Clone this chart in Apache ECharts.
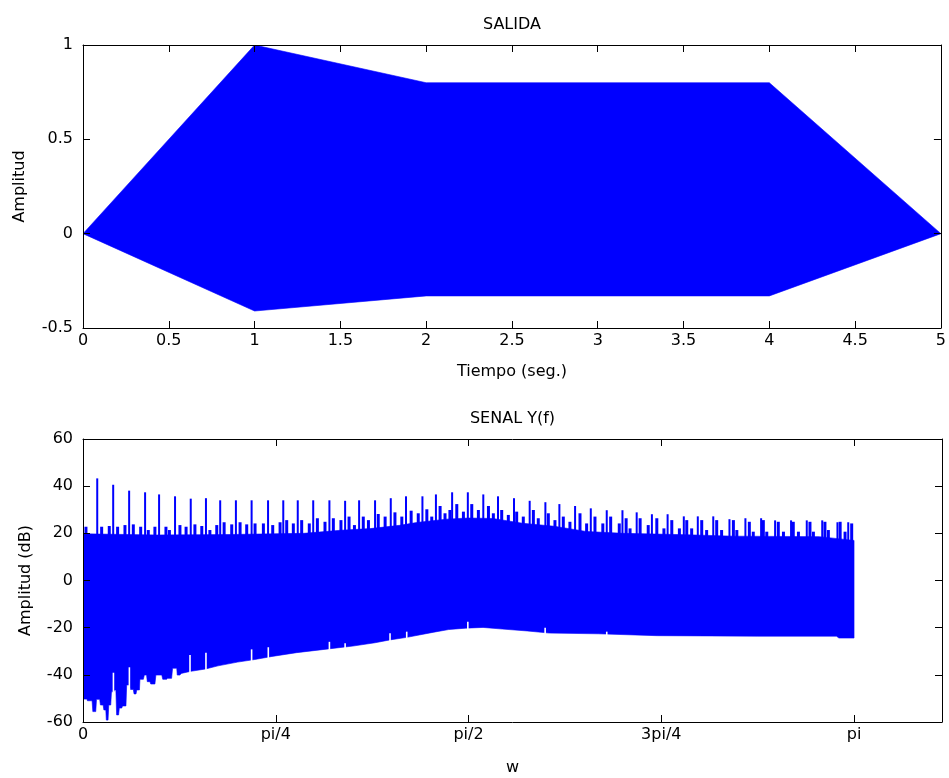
<!DOCTYPE html>
<html>
<head>
<meta charset="utf-8">
<script src="https://cdn.jsdelivr.net/npm/echarts@6/dist/echarts.min.js"></script>
<style>
  html, body { margin: 0; padding: 0; background: #ffffff; }
  #chart { width: 949px; height: 778px; }
</style>
</head>
<body>
<div id="chart"></div>
<script>
// ---------- SALIDA: envelope of the output signal (time in s, amplitude) ----------
const salidaUpperT = [0, 1, 2, 4, 5];
const salidaUpperV = [0, 1.0, 0.8, 0.8, 0];
const salidaLowerT = [0, 1, 2, 4, 5];
const salidaLowerV = [0, -0.41, -0.33, -0.33, 0];

// ---------- SENAL Y(f): magnitude spectrum in dB over w in [0, pi] ----------
// upper body of the spectrum (level between the harmonic peaks)
const specTopW  = [0.00, 0.30, 0.60, 0.90, 1.05, 1.17, 1.29, 1.36, 1.48, 1.57, 1.67, 1.79, 1.92, 2.05, 2.20, 2.46, 2.65, 3.00, 3.1416];
const specTopDb = [19.8, 19.3, 19.5, 20.0, 21.3, 22.0, 23.4, 24.6, 26.0, 26.5, 26.3, 24.3, 23.0, 20.8, 20.0, 19.4, 18.8, 18.6, 17.0];

// lower body of the spectrum
const specLowW  = [0.000, 0.016, 0.018, 0.037, 0.040, 0.052, 0.055, 0.068, 0.071, 0.082, 0.085, 0.093, 0.095, 0.102,
                   0.105, 0.113, 0.116, 0.125, 0.128, 0.134, 0.137, 0.145, 0.148, 0.158, 0.161, 0.175, 0.178, 0.190,
                   0.193, 0.205, 0.208, 0.216, 0.219, 0.230, 0.232, 0.246, 0.250, 0.259, 0.262, 0.273, 0.276, 0.293,
                   0.297, 0.321, 0.325, 0.341, 0.344, 0.361, 0.365, 0.382, 0.384, 0.395, 0.40, 0.44, 0.50, 0.55,
                   0.63, 0.70, 0.77, 0.87, 1.00, 1.10, 1.19, 1.25, 1.32, 1.37, 1.43, 1.49, 1.56, 1.63, 1.71, 1.81,
                   1.90, 2.10, 2.34, 2.75, 3.07, 3.08, 3.1416];
const specLowDb = [-50.3, -50.3, -51.0, -51.0, -55.6, -55.6, -50.4, -50.4, -52.8, -52.8, -54.9, -54.9, -59.2, -59.2,
                   -52.8, -52.8, -47.2, -47.2, -46.4, -46.4, -57.0, -57.0, -54.1, -54.1, -53.2, -53.2, -44.3, -44.3,
                   -46.2, -46.2, -48.1, -48.1, -46.4, -46.4, -41.9, -41.9, -40.1, -40.1, -42.9, -42.9, -43.9, -43.9,
                   -40.1, -40.1, -41.9, -41.9, -41.5, -41.5, -37.2, -37.2, -40.1, -40.1, -39.4, -38.5, -37.5, -36.2,
                   -34.6, -33.5, -32.2, -30.6, -29.0, -27.8, -26.4, -25.2, -24.1, -23.1, -21.9, -20.8, -20.2, -19.9, -20.6, -21.4,
                   -22.3, -22.6, -23.4, -23.6, -23.6, -24.4, -24.4];

// harmonic peaks
const peakW  = [0.058, 0.123, 0.188, 0.253, 0.310, 0.375, 0.439, 0.501, 0.559, 0.623, 0.687, 0.754, 0.816, 0.875, 0.938, 1.004,
                1.068, 1.125, 1.190, 1.254, 1.316, 1.383, 1.438, 1.504, 1.568, 1.631, 1.691, 1.756, 1.820, 1.884, 1.941, 2.005,
                2.069, 2.134, 2.198, 2.256, 2.318, 2.382, 2.448, 2.505, 2.568, 2.634, 2.699, 2.763, 2.820, 2.885, 2.949, 3.012,
                3.074, 3.118];
const peakDb = [43.3, 40.6, 38.1, 37.4, 36.5, 35.7, 34.7, 34.9, 34.0, 34.0, 34.0, 34.0, 34.0, 34.0, 34.0, 34.0,
                33.8, 34.0, 34.0, 34.9, 35.7, 35.7, 36.5, 37.4, 37.4, 36.5, 35.7, 34.9, 33.8, 33.2, 32.4, 31.6,
                30.6, 29.8, 29.8, 28.9, 28.1, 28.1, 27.2, 27.2, 27.2, 26.0, 26.4, 26.4, 25.5, 25.5, 25.5, 25.5,
                24.7, 24.7];

// smaller ripples between the peaks
const rippleW  = [0.012, 0.076, 0.107, 0.141, 0.171, 0.205, 0.235, 0.266, 0.293, 0.338, 0.352, 0.395, 0.420, 0.456, 0.484, 0.517,
                  0.545, 0.575, 0.606, 0.640, 0.667, 0.701, 0.735, 0.773, 0.803, 0.830, 0.857, 0.891, 0.922, 0.955, 0.986, 1.020,
                  1.051, 1.084, 1.106, 1.142, 1.163, 1.203, 1.231, 1.271, 1.299, 1.337, 1.366, 1.401, 1.421, 1.455, 1.475, 1.495,
                  1.523, 1.550, 1.584, 1.611, 1.652, 1.672, 1.706, 1.733, 1.767, 1.794, 1.835, 1.855, 1.896, 1.923, 1.957, 1.984,
                  2.025, 2.052, 2.086, 2.118, 2.150, 2.185, 2.213, 2.229, 2.270, 2.303, 2.338, 2.367, 2.399, 2.430, 2.460, 2.480,
                  2.521, 2.541, 2.582, 2.602, 2.650, 2.664, 2.715, 2.731, 2.772, 2.786, 2.833, 2.854, 2.894, 2.915, 2.962, 2.976,
                  3.023, 3.037, 3.085, 3.105, 3.132];
const rippleDb = [22.8, 22.8, 23.1, 22.8, 23.5, 23.8, 22.8, 21.4, 22.8, 22.8, 21.4, 23.5, 22.8, 23.8, 23.1, 21.4,
                  23.5, 24.7, 23.8, 24.7, 23.8, 24.2, 24.2, 23.5, 24.7, 25.6, 24.2, 25.6, 24.2, 26.4, 24.9, 26.4,
                  25.6, 27.1, 23.5, 27.1, 25.6, 28.2, 27.1, 28.9, 27.1, 29.6, 28.5, 30.2, 27.1, 31.6, 28.5, 29.9,
                  32.4, 29.2, 32.4, 29.9, 31.6, 28.5, 29.9, 27.8, 29.2, 27.1, 29.9, 26.4, 28.5, 25.6, 27.1, 24.9,
                  28.5, 24.2, 27.1, 24.2, 27.1, 24.2, 26.4, 22.1, 26.4, 23.5, 26.4, 22.1, 25.6, 22.1, 25.6, 22.1,
                  25.6, 21.4, 25.6, 21.4, 25.6, 21.4, 24.9, 20.7, 25.6, 20.7, 24.9, 20.7, 24.9, 20.7, 24.9, 20.7,
                  24.9, 21.4, 24.9, 20.7, 24.2];

// narrow dips in the lower body at the harmonic positions
const dipW  = [0.124, 0.189, 0.436, 0.501, 0.687, 0.755, 1.004, 1.068, 1.251, 1.319, 1.568, 1.883, 2.134];
const dipDb = [-39.1, -36.8, -31.6, -30.6, -29.2, -28.3, -26.0, -26.6, -22.4, -21.7, -17.5, -20.0, -21.7];

// tick labels of the frequency axis
const wTickLabels = ['0', 'pi/4', 'pi/2', '3pi/4', 'pi'];

// ---------- styling ----------
const BLUE = '#0000ff';
const FONT = 'DejaVu Sans';
const FS = 16;
const SPEC_Y_MIN = -60, SPEC_Y_MAX = 60;

function bandRenderer(upW, upV, loW, loV) {
  return function (params, api) {
    const pts = [];
    for (let i = 0; i < upW.length; i++) pts.push(api.coord([upW[i], upV[i]]));
    for (let i = loW.length - 1; i >= 0; i--) pts.push(api.coord([loW[i], loV[i]]));
    return { type: 'polygon', shape: { points: pts }, style: { fill: BLUE, stroke: BLUE, lineWidth: 0.6 } };
  };
}

function stemRenderer(color, width, baseValue) {
  return function (params, api) {
    const a = api.coord([api.value(0), api.value(1)]);
    const b = api.coord([api.value(0), baseValue]);
    return { type: 'line', shape: { x1: a[0], y1: a[1], x2: b[0], y2: b[1] },
             style: { stroke: color, lineWidth: width } };
  };
}

function axisBase(extra) {
  return Object.assign({
    type: 'value',
    z: 10,
    axisLine: { show: true, onZero: false, lineStyle: { color: '#000', width: 1 } },
    axisTick: { show: true, inside: true, length: 7, lineStyle: { color: '#000', width: 1 } },
    splitLine: { show: false },
    axisLabel: { color: '#000', fontFamily: FONT, fontSize: FS },
    nameTextStyle: { color: '#000', fontFamily: FONT, fontSize: FS },
    nameLocation: 'middle'
  }, extra);
}

const wFormatter = function (v) {
  const q = Math.PI / 4;
  const k = Math.round(v / q);
  return (Math.abs(v - k * q) < 1e-6 && k < wTickLabels.length) ? wTickLabels[k] : '';
};

const option = {
  animation: false,
  backgroundColor: '#ffffff',
  grid: [
    { left: 83, top: 45, width: 859, height: 283, show: false },
    { left: 83, top: 439, width: 859, height: 283, show: false }
  ],
  xAxis: [
    axisBase({ gridIndex: 0, position: 'bottom', min: 0, max: 5, interval: 0.5,
               name: 'Tiempo (seg.)', nameGap: 36,
               axisLabel: { color: '#000', fontFamily: FONT, fontSize: FS, margin: 5 } }),
    axisBase({ gridIndex: 0, position: 'top', min: 0, max: 5, interval: 0.5,
               name: 'SALIDA', nameGap: 12, axisLabel: { show: false } }),
    axisBase({ gridIndex: 1, position: 'bottom', min: 0, max: 3.5, interval: Math.PI / 4,
               name: 'w', nameGap: 38,
               axisLabel: { color: '#000', fontFamily: FONT, fontSize: FS, margin: 5, formatter: wFormatter } }),
    axisBase({ gridIndex: 1, position: 'top', min: 0, max: 3.5, interval: Math.PI / 4,
               name: 'SENAL Y(f)', nameGap: 12, axisLabel: { show: false } })
  ],
  yAxis: [
    axisBase({ gridIndex: 0, position: 'left', min: -0.5, max: 1, interval: 0.5,
               name: 'Amplitud', nameGap: 55,
               axisLabel: { color: '#000', fontFamily: FONT, fontSize: FS, margin: 10 } }),
    axisBase({ gridIndex: 0, position: 'right', min: -0.5, max: 1, interval: 0.5, axisLabel: { show: false } }),
    axisBase({ gridIndex: 1, position: 'left', min: SPEC_Y_MIN, max: SPEC_Y_MAX, interval: 20,
               name: 'Amplitud (dB)', nameGap: 49,
               axisLabel: { color: '#000', fontFamily: FONT, fontSize: FS, margin: 10 } }),
    axisBase({ gridIndex: 1, position: 'right', min: SPEC_Y_MIN, max: SPEC_Y_MAX, interval: 20, axisLabel: { show: false } })
  ],
  series: [
    { // output signal envelope
      type: 'custom', xAxisIndex: 0, yAxisIndex: 0, clip: true, z: 2,
      data: [[0, 0]],
      renderItem: bandRenderer(salidaUpperT, salidaUpperV, salidaLowerT, salidaLowerV)
    },
    { // spectrum body
      type: 'custom', xAxisIndex: 2, yAxisIndex: 2, clip: true, z: 2,
      data: [[0, 0]],
      renderItem: bandRenderer(specTopW, specTopDb, specLowW, specLowDb)
    },
    { // ripples
      type: 'custom', xAxisIndex: 2, yAxisIndex: 2, clip: true, z: 3,
      data: rippleW.map((w, i) => [w, rippleDb[i]]),
      renderItem: stemRenderer(BLUE, 3, 0)
    },
    { // harmonic peaks
      type: 'custom', xAxisIndex: 2, yAxisIndex: 2, clip: true, z: 4,
      data: peakW.map((w, i) => [w, peakDb[i]]),
      renderItem: stemRenderer(BLUE, 2, 0)
    },
    { // dips in the lower body
      type: 'custom', xAxisIndex: 2, yAxisIndex: 2, clip: true, z: 5,
      data: dipW.map((w, i) => [w, dipDb[i]]),
      renderItem: stemRenderer('#ffffff', 1.6, SPEC_Y_MIN)
    }
  ]
};

const chart = echarts.init(document.getElementById('chart'), null, { renderer: 'canvas' });
chart.setOption(option);
</script>
</body>
</html>
